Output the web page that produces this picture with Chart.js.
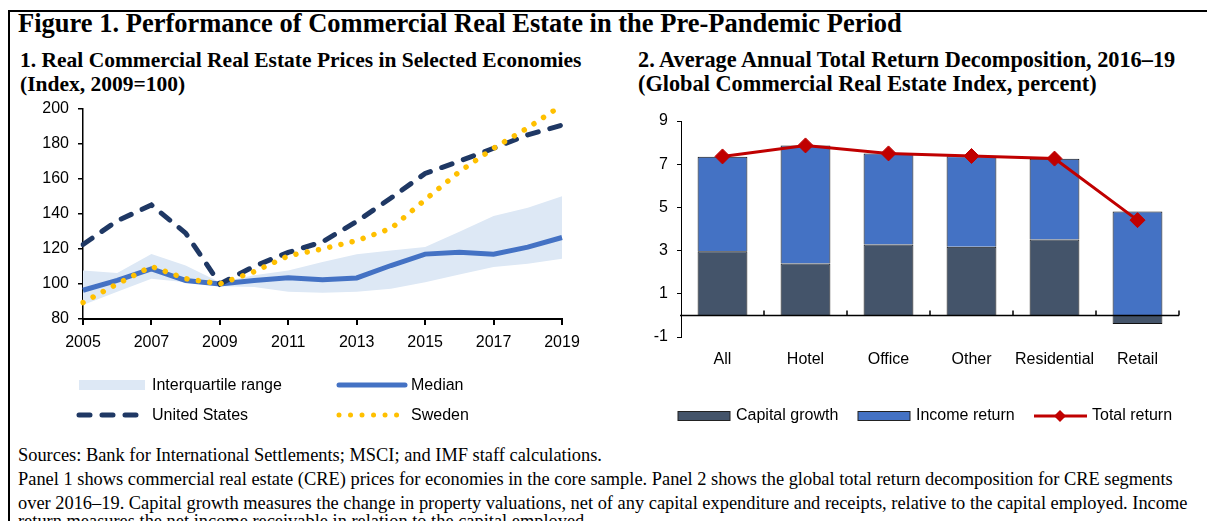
<!DOCTYPE html>
<html>
<head>
<meta charset="utf-8">
<script src="https://cdn.jsdelivr.net/npm/chart.js@4"></script>
<style>
  body { margin: 0; background: #fff; width: 1207px; height: 521px; overflow: hidden; position: relative; }
  .frame { position: absolute; left: 8px; top: 10px; width: 1230px; height: 560px; border: 2px solid #000; }
  .serif { position: absolute; font-family: "Liberation Serif", "DejaVu Serif", serif; color: #000; white-space: nowrap; }
  .title { left: 18px; top: 8px; font-size: 26.5px; font-weight: bold; }
  .sub { font-size: 21.5px; font-weight: bold; line-height: 24px; }
  .note { left: 18px; font-size: 18.4px; line-height: 20px; }
  canvas { position: absolute; }
</style>
</head>
<body>
<div class="frame"></div>
<div class="serif title">Figure 1. Performance of Commercial Real Estate in the Pre-Pandemic Period</div>
<div class="serif sub" style="left:20px; top:48px;">1. Real Commercial Real Estate Prices in Selected Economies<br>(Index, 2009=100)</div>
<div class="serif sub" style="left:638px; top:48px; font-size:22.3px;">2. Average Annual Total Return Decomposition, 2016–19<br>(Global Commercial Real Estate Index, percent)</div>

<canvas id="chart1" width="600" height="350" style="left:0px; top:90px;"></canvas>
<canvas id="chart2" width="597" height="345" style="left:610px; top:95px;"></canvas>

<div class="serif note" style="top:445px;">Sources: Bank for International Settlements; MSCI; and IMF staff calculations.</div>
<div class="serif note" style="top:469px;">Panel 1 shows commercial real estate (CRE) prices for economies in the core sample. Panel 2 shows the global total return decomposition for CRE segments</div>
<div class="serif note" style="top:493px;">over 2016–19. Capital growth measures the change in property valuations, net of any capital expenditure and receipts, relative to the capital employed. Income</div>
<div class="serif note" style="top:511px;">return measures the net income receivable in relation to the capital employed.</div>

<script>
// panel 1 data (index, 2009=100)
var years = ['2005','2006','2007','2008','2009','2010','2011','2012','2013','2014','2015','2016','2017','2018','2019'];
var iqrUpper = [107.7, 106.2, 117.1, 110.5, 101, 104.9, 107.7, 112.5, 117, 119, 121, 129.7, 138.8, 143.5, 150];
var iqrLower = [88, 95.5, 103, 101, 98.7, 98.3, 95.5, 95, 95.5, 97.3, 101, 105.4, 109.6, 111.5, 114.3];
var median = [96.4, 102, 108.6, 102, 100, 102, 103.5, 102.4, 103.4, 110.5, 117, 118, 117, 121, 126.5];
var unitedStates = [122.5, 136, 145, 129, 100, 110, 118, 124, 135.6, 149, 163, 170, 177.4, 185, 190.6];
var sweden = [89.4, 100, 110, 103, 100, 107, 116, 120, 124.7, 131.6, 148, 164, 177.4, 189, 202];

// panel 2 data (percent)
var segments = ['All', 'Hotel', 'Office', 'Other', 'Residential', 'Retail'];
var capitalGrowth = [2.97, 2.40, 3.28, 3.18, 3.51, -0.40];
var incomeReturn = [4.37, 5.47, 4.22, 4.19, 3.74, 4.81];
var totalReturn = [7.36, 7.87, 7.50, 7.38, 7.26, 4.41];

var FONT = '"Liberation Sans", Arial, sans-serif';
Chart.defaults.font.family = FONT;
Chart.defaults.font.size = 16;
Chart.defaults.color = '#000';

var NAVY = '#1f3864', GOLD = '#ffc000', BLUE = '#4472c4', BAND = '#dde8f5';
var SLATE = '#44546a', RED = '#c00000';

// legend for panel 1, drawn under the plot
var legend1 = {
  id: 'legend1',
  afterDraw: function(chart) {
    var ctx = chart.ctx;
    ctx.save();
    ctx.font = '16px ' + FONT;
    ctx.fillStyle = '#000';
    ctx.textBaseline = 'middle';

    ctx.fillStyle = BAND;
    ctx.fillRect(79, 290, 66, 10);
    ctx.fillStyle = '#000';
    ctx.fillText('Interquartile range', 152, 296);

    ctx.lineCap = 'round';
    ctx.strokeStyle = BLUE;
    ctx.lineWidth = 5;
    ctx.beginPath(); ctx.moveTo(339, 295); ctx.lineTo(405, 295); ctx.stroke();
    ctx.fillText('Median', 411, 296);

    ctx.strokeStyle = NAVY;
    ctx.lineWidth = 5;
    ctx.setLineDash([11, 12]);
    ctx.beginPath(); ctx.moveTo(79, 325); ctx.lineTo(140, 325); ctx.stroke();
    ctx.fillText('United States', 152, 326);

    ctx.strokeStyle = GOLD;
    ctx.lineWidth = 5;
    ctx.setLineDash([0.01, 11.5]);
    ctx.beginPath(); ctx.moveTo(339, 325); ctx.lineTo(402, 325); ctx.stroke();
    ctx.fillText('Sweden', 411, 326);
    ctx.restore();
  }
};

new Chart(document.getElementById('chart1'), {
  type: 'line',
  data: {
    labels: years,
    datasets: [
      { label: 'Sweden', data: sweden, borderColor: GOLD, borderWidth: 5.5, borderDash: [0.01, 11.5],
        borderCapStyle: 'round', pointRadius: 0, fill: false },
      { label: 'United States', data: unitedStates, borderColor: NAVY, borderWidth: 5, borderDash: [11, 12],
        borderCapStyle: 'round', pointRadius: 0, fill: false },
      { label: 'Median', data: median, borderColor: BLUE, borderWidth: 5, pointRadius: 0, fill: false },
      { label: 'Interquartile range', data: iqrUpper, borderWidth: 0, borderColor: 'rgba(0,0,0,0)',
        backgroundColor: BAND, pointRadius: 0, fill: '+1' },
      { label: 'iqr low', data: iqrLower, borderWidth: 0, borderColor: 'rgba(0,0,0,0)', pointRadius: 0, fill: false }
    ]
  },
  options: {
    responsive: false,
    animation: false,
    layout: { padding: { left: 0, right: 38, top: 7, bottom: 91 } },
    plugins: { legend: { display: false }, tooltip: { enabled: false } },
    scales: {
      x: {
        offset: false,
        grid: { drawOnChartArea: false, drawTicks: true, tickLength: 6, color: '#000', lineWidth: 2 },
        border: { color: '#000', width: 2 },
        ticks: {
          autoSkip: false, maxRotation: 0, padding: 8,
          callback: function(v, i) { return i % 2 === 0 ? years[i] : null; }
        },
        afterFit: function(s) { s.height = 30; }
      },
      y: {
        min: 80, max: 200,
        ticks: { stepSize: 20, padding: 9 },
        grid: { drawOnChartArea: false, drawTicks: true, tickLength: 5, color: '#000', lineWidth: 1.5 },
        border: { color: '#000', width: 1.5 },
        afterFit: function(s) { s.width = 83; }
      }
    }
  },
  plugins: [legend1]
});

// zero line with small tick marks, plus legend for panel 2
var panel2Extras = {
  id: 'panel2Extras',
  afterDatasetsDraw: function(chart) {
    var ctx = chart.ctx, area = chart.chartArea;
    var x = chart.scales.x, y = chart.scales.y;
    var y0 = y.getPixelForValue(0);
    ctx.save();
    ctx.strokeStyle = '#000';
    ctx.lineWidth = 1.5;
    ctx.beginPath();
    ctx.moveTo(area.left - 1, y0);
    ctx.lineTo(area.right, y0);
    var w = x.getPixelForTick(1) - x.getPixelForTick(0);
    for (var i = 0; i < segments.length; i++) {
      var bx = x.getPixelForTick(i) + w / 2;
      ctx.moveTo(bx, y0);
      ctx.lineTo(bx, y0 - 5);
    }
    ctx.stroke();
    ctx.restore();
  },
  afterDraw: function(chart) {
    var ctx = chart.ctx;
    ctx.save();
    ctx.font = '16px ' + FONT;
    ctx.textBaseline = 'middle';
    ctx.lineWidth = 1;
    ctx.strokeStyle = '#222';

    ctx.fillStyle = SLATE;
    ctx.fillRect(68, 316.5, 52, 9);
    ctx.strokeRect(68, 316.5, 52, 9);
    ctx.fillStyle = '#000';
    ctx.fillText('Capital growth', 126, 321);

    ctx.fillStyle = BLUE;
    ctx.fillRect(248, 316.5, 52, 9);
    ctx.strokeRect(248, 316.5, 52, 9);
    ctx.fillStyle = '#000';
    ctx.fillText('Income return', 306, 321);

    ctx.strokeStyle = RED;
    ctx.lineWidth = 3;
    ctx.beginPath(); ctx.moveTo(424, 321); ctx.lineTo(477, 321); ctx.stroke();
    ctx.fillStyle = RED;
    ctx.beginPath();
    ctx.moveTo(450, 315); ctx.lineTo(456, 321); ctx.lineTo(450, 327); ctx.lineTo(444, 321);
    ctx.closePath(); ctx.fill();
    ctx.fillStyle = '#000';
    ctx.fillText('Total return', 482, 321);
    ctx.restore();
  }
};

new Chart(document.getElementById('chart2'), {
  type: 'bar',
  data: {
    labels: segments,
    datasets: [
      { type: 'line', label: 'Total return', data: totalReturn, stack: 'total', order: 0,
        borderColor: RED, borderWidth: 3, backgroundColor: RED,
        pointStyle: 'rectRot', pointRadius: 7.5, pointBorderWidth: 1, pointBackgroundColor: RED, pointBorderColor: RED },
      { label: 'Capital growth', data: capitalGrowth, stack: 'a', order: 1,
        backgroundColor: SLATE, borderColor: '#111', borderWidth: 1,
        barPercentage: 0.6, categoryPercentage: 1 },
      { label: 'Income return', data: incomeReturn, stack: 'a', order: 1,
        backgroundColor: BLUE, borderColor: '#111', borderWidth: 1,
        barPercentage: 0.6, categoryPercentage: 1 }
    ]
  },
  options: {
    responsive: false,
    animation: false,
    layout: { padding: { left: 0, right: 28, top: 26, bottom: 63 } },
    plugins: { legend: { display: false }, tooltip: { enabled: false } },
    scales: {
      x: {
        stacked: true,
        grid: { display: false },
        border: { display: false },
        ticks: { padding: 5, maxRotation: 0 },
        afterFit: function(s) { s.height = 40; }
      },
      y: {
        stacked: true,
        min: -1, max: 9,
        ticks: { stepSize: 2, padding: 9 },
        grid: { drawOnChartArea: false, drawTicks: true, tickLength: 4, color: '#000' },
        border: { color: '#000', width: 1 },
        afterFit: function(s) { s.width = 71; }
      }
    }
  },
  plugins: [panel2Extras]
});
</script>
</body>
</html>
